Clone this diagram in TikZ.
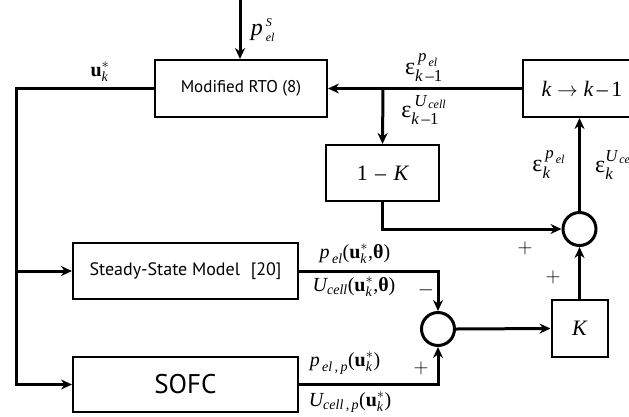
\documentclass[tikz,border=0pt]{standalone}
\usepackage{fontspec}
\usepackage{amsmath}
\setsansfont{PT Sans}
\newfontfamily\tms{Liberation Serif}
\newcommand{\tvi}[1]{\text{\tms\itshape #1}}
\newcommand{\tbo}[1]{\text{\tms\bfseries #1}}
\newcommand{\tup}[1]{\text{\tms #1}}
\usetikzlibrary{arrows.meta}
\begin{document}
\begin{tikzpicture}[x=1pt,y=-1pt,
  line/.style={line width=3pt},
  arr/.style={line width=3pt,-{Stealth[length=11pt,width=10pt]}},
  blk/.style={draw,line width=2pt,inner sep=0pt},
  sumnode/.style={draw,circle,line width=3pt,minimum size=33pt,inner sep=0pt},
  lbl/.style={inner sep=0pt,font=\fontsize{20}{20}\selectfont},
  elbl/.style={inner sep=0pt,font=\fontsize{24}{24}\selectfont},
  sgn/.style={inner sep=0pt,font=\fontsize{20}{20}\selectfont}]
\useasboundingbox (0,0) rectangle (629,416);
\clip (0,0) rectangle (629,416);
% blocks
\node[blk, minimum width=172pt, minimum height=57pt, font=\sffamily\fontsize{17}{17}\selectfont] (rto) at (241,88.5) {Modified RTO (8)};
\node[blk, minimum width=118pt, minimum height=57pt, font=\fontsize{22}{22}\selectfont] (kk) at (582,88.5) {$\tvi{k}\rightarrow\tvi{k}\,\tup{–}\,\tup{1}$};
\node[blk, minimum width=113pt, minimum height=56pt, font=\fontsize{22}{22}\selectfont] (omk) at (382.5,173) {\tms 1\,\,–\,\,\itshape K};
\node[blk, minimum width=225pt, minimum height=56pt, font=\sffamily\fontsize{18}{18}\selectfont] (ss) at (185.5,271) {Steady-State Model\,\, [20]};
\node[blk, minimum width=225pt, minimum height=55pt, font=\sffamily\fontsize{27}{27}\selectfont] (sofc) at (185.5,384.5) {SOFC};
\node[blk, minimum width=56pt, minimum height=57pt, font=\fontsize{22}{22}\selectfont] (K) at (579.5,328.5) {\tms\itshape K};
\node[sumnode] (s1) at (579.5,229) {};
\node[sumnode] (s2) at (438,329) {};
% coordinates
\coordinate (in) at (240,0);
\coordinate (lt) at (16,88.5);
\coordinate (lm) at (16,271);
\coordinate (lb) at (16,384.5);
\coordinate (br) at (383,88.5);
% connectors
\draw[arr] (in) -- (in |- rto.north);
\draw[arr] (rto.west) -- (lt) -- (lb) -- (sofc.west);
\draw[arr] (lm) -- (ss.west);
\draw[arr] (kk.west) -- (rto.east);
\draw[arr] (br) -- (omk.north);
\draw[arr] (omk.south) |- (s1.west);
\draw[arr] (s1.north) -- (s1.north |- kk.south);
\draw[arr] (K.north) -- (s1.south);
\draw[arr] (s2.east) -- (K.west);
\draw[arr] (ss.east) -| (s2.north);
\draw[arr] (sofc.east) -| (s2.south);
% labels
\node[elbl] (lpS) at (263,30) {$\tvi{p}^{\,\scriptscriptstyle\tvi{S}}_{\,\scriptscriptstyle\tvi{el}}$};
\node[lbl] (lu) at (100,72) {$\tbo{u}^{*}_{\tvi{k}}$};
\node[elbl] (le1) at (424,68) {$\tup{ε}^{\,\tvi{p}_{\,\tvi{el}}}_{\tvi{k}\,\tup{–}\tup{1}}$};
\node[elbl] (le2) at (424,110) {$\tup{ε}^{\,\tvi{U}_{\,\tvi{cell}}}_{\tvi{k}\,\tup{–}\tup{1}}$};
\node[elbl] (le3) at (549,165) {$\tup{ε}^{\,\tvi{p}_{\,\tvi{el}}}_{\tvi{k}}$};
\node[elbl,anchor=west] (le4) at (595,165) {$\tup{ε}^{\tvi{U}_{\,\tvi{cell}}}_{\tvi{k}}$};
\node[lbl] (lss1) at (355,254) {$\tvi{p}_{\,\tvi{el}}\tup{(}\tbo{u}^{*}_{\tvi{k}}\tup{,}\tbo{θ}\tup{)}$};
\node[lbl] (lss2) at (354,287) {$\tvi{U}_{\tvi{cell}}\tup{(}\tbo{u}^{*}_{\tvi{k}}\tup{,}\tbo{θ}\tup{)}$};
\node[lbl] (lso1) at (345,363) {$\tvi{p}_{\,\tvi{el\,,\,p}}\tup{(}\tbo{u}^{*}_{\tvi{k}}\tup{)}$};
\node[lbl] (lso2) at (350,402) {$\tvi{U}_{\tvi{cell\,,\,p}}\tup{(}\tbo{u}^{*}_{\tvi{k}}\tup{)}$};
\node[sgn] (m1) at (426,290) {$-$};
\node[sgn] (p1) at (421,368) {$+$};
\node[sgn] (p2) at (525,248) {$+$};
\node[sgn] (p3) at (553,277) {$+$};
\end{tikzpicture}
\end{document}
